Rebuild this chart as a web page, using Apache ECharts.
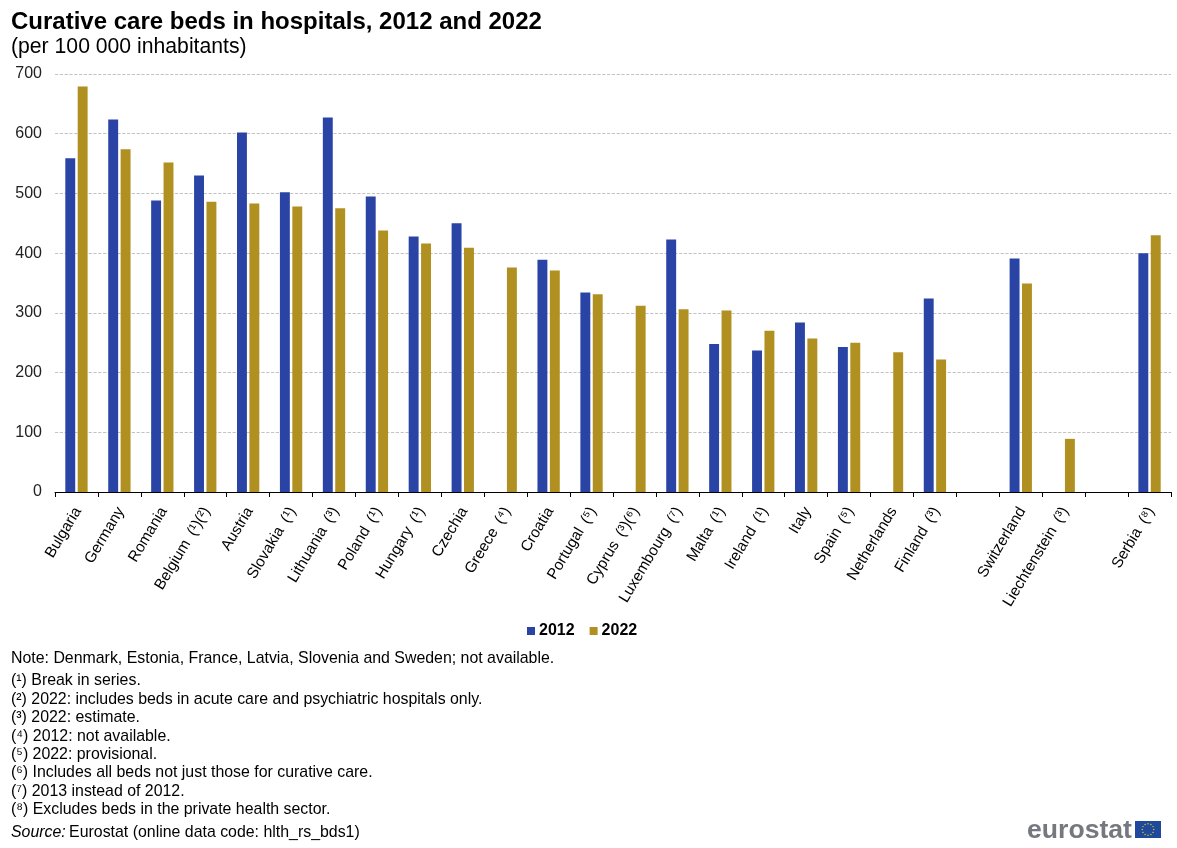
<!DOCTYPE html>
<html><head><meta charset="utf-8">
<style>html,body{margin:0;padding:0;background:#fff}#c{width:1177px;height:848px}</style>
<script src="https://cdn.jsdelivr.net/npm/echarts@6/dist/echarts.min.js"></script>
</head><body><div id="c"></div>
<script>
const categories = ["Bulgaria","Germany","Romania","Belgium\u2002(¹)(²)","Austria","Slovakia\u2002(¹)","Lithuania\u2002(³)","Poland\u2002(¹)","Hungary\u2002(¹)","Czechia","Greece\u2002(⁴)","Croatia","Portugal\u2002(⁵)","Cyprus\u2002(³)(⁶)","Luxembourg\u2002(⁷)","Malta\u2002(¹)","Ireland\u2002(¹)","Italy","Spain\u2002(⁵)","Netherlands","Finland\u2002(³)"," ","Switzerland","Liechtenstein\u2002(³)","  ","Serbia\u2002(⁸)"];
const values2012 = [559,624,488,530,602,502,627,495,428,450,null,389,334,null,423,248,237,284,243,null,324,null,391,null,null,400];
const values2022 = [679,574,552,486,483,478,475,438,416,409,376,371,331,312,306,304,270,257,250,234,222,null,349,89,null,430];
const yTicks = {min:0,max:700,interval:100};
const titleText = "Curative care beds in hospitals, 2012 and 2022";
const subtitleText = "(per 100 000 inhabitants)";
const noteLines = [
 ["Note: Denmark, Estonia, France, Latvia, Slovenia and Sweden; not available.",659],
 ["(¹) Break in series.",681],
 ["(²) 2022: includes beds in acute care and psychiatric hospitals only.",700],
 ["(³) 2022: estimate.",718],
 ["(⁴) 2012: not available.",737],
 ["(⁵) 2022: provisional.",755],
 ["(⁶) Includes all beds not just those for curative care.",773],
 ["(⁷) 2013 instead of 2012.",792],
 ["(⁸) Excludes beds in the private health sector.",810]
];
const FONT = '"Liberation Sans", Arial, sans-serif';
const BLUE = '#2a44a6', GOLD = '#b09020';
const graphics = [
 {type:'text',left:11,top:10,style:{text:titleText,font:'bold 24px '+FONT,fill:'#000'}},
 {type:'text',left:11,top:37,style:{text:subtitleText,font:'21.2px '+FONT,fill:'#000'}}
];
noteLines.forEach(([t,y])=>graphics.push({type:'text',x:11,y:y,style:{text:t,font:'15.9px '+FONT,fill:'#000',verticalAlign:'middle'}}));
graphics.push({type:'text',x:11,y:833,style:{rich:{i:{font:'italic 15.9px '+FONT,fill:'#000'},n:{font:'15.9px '+FONT,fill:'#000'}},text:'{i|Source:} {n|Eurostat (online data code: hlth_rs_bds1)}',verticalAlign:'middle'}});
graphics.push({type:'text',x:1027,y:831,style:{text:'eurostat',font:'bold 26.6px '+FONT,fill:'#75787f',verticalAlign:'middle'}});
graphics.push({type:'rect',shape:{x:1135,y:821,width:26,height:17},style:{fill:'#1f4a9c'}});
for(let i=0;i<12;i++){const a=i*Math.PI/6;graphics.push({type:'circle',shape:{cx:1148+5.8*Math.cos(a),cy:829.5+5.8*Math.sin(a),r:0.7},style:{fill:'#e8c820'}});}
const chart = echarts.init(document.getElementById('c'),null,{renderer:'canvas'});
chart.setOption({
 animation:false,
 backgroundColor:'#fff',
 textStyle:{fontFamily:FONT},
 grid:{left:55,right:6,top:74,height:418,containLabel:false},
 legend:{top:618,left:522,itemWidth:8,itemHeight:8,itemGap:15,icon:'rect',data:['2012','2022'],
   textStyle:{fontSize:16,fontWeight:'bold',color:'#000',fontFamily:FONT,padding:[0,0,0,-1]}},
 xAxis:{type:'category',data:categories,
   axisLine:{lineStyle:{color:'#000',width:1}},
   axisTick:{show:true,length:5,lineStyle:{color:'#000'},alignWithLabel:false},
   axisLabel:{interval:0,rotate:59,fontSize:15.3,color:'#000',margin:19,padding:[0,-3,0,0],fontFamily:FONT},
   splitLine:{show:false}},
 yAxis:{type:'value',min:yTicks.min,max:yTicks.max,interval:yTicks.interval,
   axisLine:{show:false},axisTick:{show:false},
   axisLabel:{fontSize:16,color:'#222',margin:13,fontFamily:FONT,padding:[4,0,0,0]},
   splitLine:{lineStyle:{color:'#b4b4b4',type:'dashed',width:0.8}}},
 series:[
  {name:'2012',type:'bar',data:values2012,itemStyle:{color:BLUE},barGap:'25%',barCategoryGap:'48%'},
  {name:'2022',type:'bar',data:values2022,itemStyle:{color:GOLD}}
 ],
 graphic:graphics
});
</script></body></html>
